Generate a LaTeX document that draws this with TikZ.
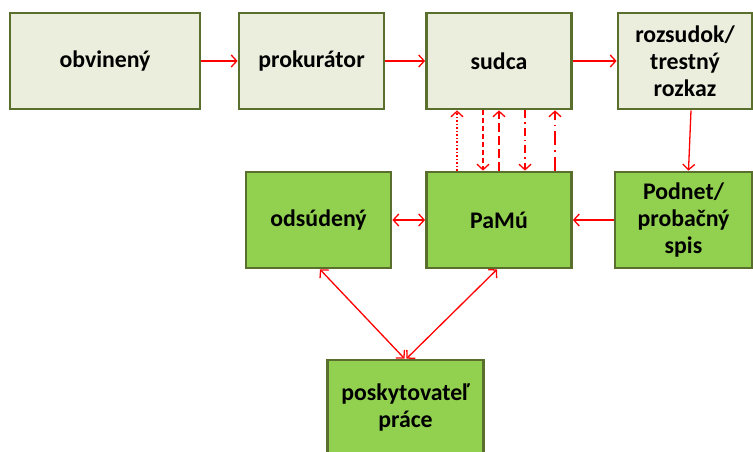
\documentclass[tikz,border=0pt]{standalone}
\usepackage{fontspec}
\setmainfont{Carlito}
\usetikzlibrary{arrows.meta}
\definecolor{boxline}{HTML}{5A6F2E}
\definecolor{paleFill}{HTML}{EBEEDD}
\definecolor{greenFill}{HTML}{92D050}
\tikzset{
  basebox/.style={draw=boxline, line width=2.8pt, minimum height=96pt, inner sep=2pt,
    align=center, font=\fontsize{23.8}{27}\selectfont\bfseries},
  palebox/.style={basebox, fill=paleFill},
  greenbox/.style={basebox, fill=greenFill},
  conn/.style={draw=red, line width=1.3pt, -{Straight Barb[length=5.5pt,width=12pt]}},
  biconn/.style={draw=red, line width=1.3pt, {Straight Barb[length=5.5pt,width=12pt]}-{Straight Barb[length=5.5pt,width=12pt]}}
}
\begin{document}
\begin{tikzpicture}[x=1pt,y=-1pt]
\useasboundingbox (0,0) rectangle (753,452);
\node[palebox, minimum width=190pt] (obv) at (105,61) {obvinený};
\node[palebox, minimum width=145pt] (prok) at (311.5,61) {prokurátor};
\node[palebox, minimum width=145pt] (sudca) at (499,61) {sudca};
\node[palebox, minimum width=134pt] (rozs) at (685,61) {rozsudok/\\trestný\\rozkaz};
\node[greenbox, minimum width=145pt] (ods) at (318.5,220) {odsúdený};
\node[greenbox, minimum width=145pt] (pamu) at (499,220) {PaMú};
\node[greenbox, minimum width=137pt] (podnet) at (683.5,220) {Podnet/\\probačný\\spis};
\node[greenbox, minimum width=156pt] (posk) at (405.5,408) {poskytovateľ\\práce};

\draw[conn] (obv) -- (prok);
\draw[conn] (prok) -- (sudca);
\draw[conn] (sudca) -- (rozs);
\draw[conn] ([xshift=6pt]rozs.south) -- ([xshift=5pt]podnet.north);
\draw[conn] (podnet) -- (pamu);
\draw[biconn] (ods) -- (pamu);
\draw[biconn] ([xshift=1.5pt]ods.south) -- ([xshift=-1pt]posk.north);
\draw[biconn] ([xshift=-2pt]pamu.south) -- ([xshift=1pt]posk.north);

\draw[conn, dash pattern=on 1.5pt off 2pt] ([xshift=-42pt]pamu.north) -- ([xshift=-42pt]sudca.south);
\draw[conn, dash pattern=on 5pt off 3pt] ([xshift=-16pt]sudca.south) -- ([xshift=-16pt]pamu.north);
\draw[conn, dash pattern=on 9pt off 4pt] ([xshift=0pt]pamu.north) -- ([xshift=0pt]sudca.south);
\draw[conn, dash pattern=on 8pt off 4pt on 1.5pt off 4pt] ([xshift=26pt]sudca.south) -- ([xshift=26pt]pamu.north);
\draw[conn, dash pattern=on 14pt off 5pt on 1.5pt off 5pt] ([xshift=56pt]pamu.north) -- ([xshift=56pt]sudca.south);
\end{tikzpicture}
\end{document}
